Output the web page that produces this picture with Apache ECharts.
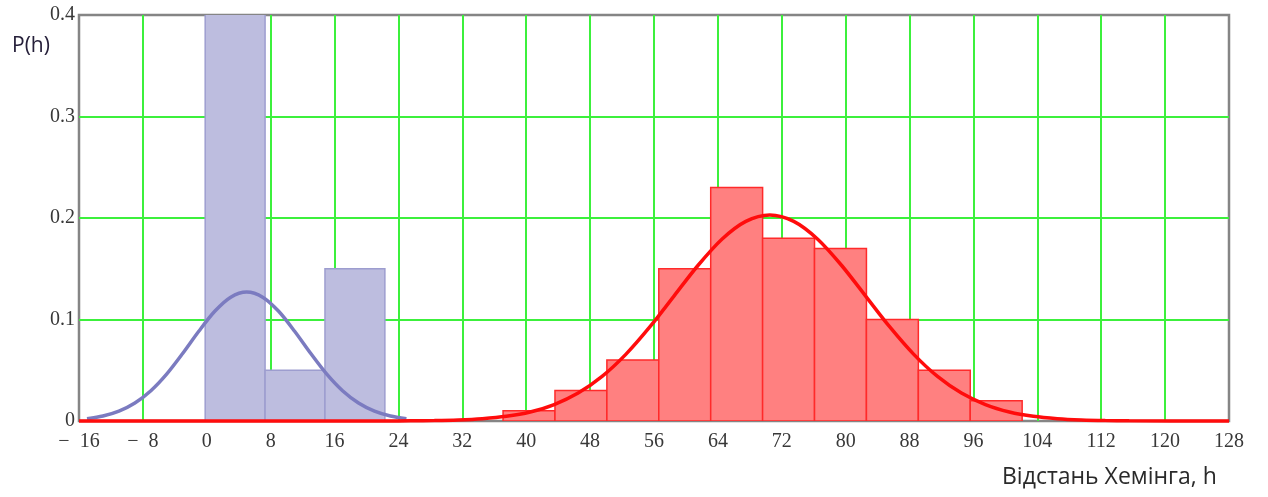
<!DOCTYPE html>
<html>
<head>
<meta charset="utf-8">
<script src="https://cdn.jsdelivr.net/npm/echarts@6/dist/echarts.min.js"></script>
<style>
  html, body { margin: 0; padding: 0; background: #ffffff; }
  #chart { width: 1268px; height: 497px; }
</style>
</head>
<body>
<div id="chart"></div>
<script>
// Histogram bins: edges (h) and relative frequencies P(h)
const blueBinEdges = [-0.2, 7.3, 14.8, 22.3];
const blueProb = [0.8, 0.05, 0.15];
const redBinEdges = [37.1, 43.6, 50.1, 56.6, 63.1, 69.6, 76.1, 82.6, 89.1, 95.6, 102.1];
const redProb = [0.01, 0.03, 0.06, 0.15, 0.23, 0.18, 0.17, 0.10, 0.05, 0.02];

// Fitted density curves, sampled along h
const blueCurveX = [-15, -13, -11, -9, -7, -5, -3, -1, 1, 3, 5, 7, 9, 11, 13, 15, 17, 19, 21, 23, 25];
const blueCurveY = [0.0023, 0.0049, 0.0097, 0.0177, 0.0298, 0.0464, 0.0667, 0.0884, 0.1081, 0.122, 0.127,
                    0.122, 0.1081, 0.0884, 0.0667, 0.0464, 0.0298, 0.0177, 0.0097, 0.0049, 0.0023];
const redCurveX = [-16, 22.5, 25.5, 28.5, 31.5, 34.5, 37.5, 40.5, 43.5, 46.5, 49.5, 52.5, 55.5, 58.5, 61.5, 64.5, 67.5,
                   70.5, 73.5, 76.5, 79.5, 82.5, 85.5, 88.5, 91.5, 94.5, 97.5, 100.5, 103.5, 106.5, 109.5, 112.5, 115.5, 128];
const redCurveY = [0, 0, 0.0002, 0.0004, 0.001, 0.00225, 0.0046, 0.0089, 0.0162, 0.0275, 0.0439, 0.0659, 0.0929,
                   0.1231, 0.1532, 0.1791, 0.1967, 0.203, 0.1967, 0.1791, 0.1532, 0.1231, 0.0929, 0.0659, 0.0439,
                   0.0275, 0.0162, 0.0089, 0.0046, 0.00225, 0.001, 0.0004, 0.0002, 0];

// Axis ticks
const xMin = -16, xMax = 128, xStep = 8;
const yMin = 0, yMax = 0.4, yStep = 0.1;

function binData(edges, probs) {
  return probs.map((p, i) => [edges[i], edges[i + 1], p]);
}
function curveData(xs, ys) {
  return xs.map((x, i) => [x, ys[i]]);
}
function binRenderer(fill, stroke) {
  return function (params, api) {
    const a = api.coord([api.value(0), 0]);
    const b = api.coord([api.value(1), api.value(2)]);
    return {
      type: 'rect',
      shape: { x: a[0], y: b[1], width: b[0] - a[0], height: a[1] - b[1] },
      style: { fill: fill, stroke: stroke, lineWidth: 1.5 }
    };
  };
}

const chart = echarts.init(document.getElementById('chart'), null, { renderer: 'canvas' });

const tickFont = { fontFamily: 'Liberation Serif', fontSize: 20, color: '#383838' };
const gridLine = { show: true, showMinLine: false, showMaxLine: false, lineStyle: { color: '#3cf03c', width: 2 } };

chart.setOption({
  animation: false,
  backgroundColor: '#ffffff',
  grid: {
    left: 79, right: 39, top: 15, bottom: 76,
    show: true, borderColor: '#858585', borderWidth: 2.5, backgroundColor: 'transparent'
  },
  xAxis: {
    type: 'value', min: xMin, max: xMax, interval: xStep,
    axisLine: { show: false },
    axisTick: { show: false },
    splitLine: gridLine,
    axisLabel: Object.assign({
      margin: 11,
      formatter: v => (v < 0 ? '\u2212\u2002' + Math.abs(v) : String(v))
    }, tickFont)
  },
  yAxis: {
    type: 'value', min: yMin, max: yMax, interval: yStep,
    axisLine: { show: false },
    axisTick: { show: false },
    splitLine: gridLine,
    axisLabel: Object.assign({
      margin: 4,
      formatter: v => (v === 0 ? '0' : v.toFixed(1))
    }, tickFont)
  },
  graphic: [
    { type: 'text', left: 12, top: 36,
      style: { text: 'P(h)', fontFamily: 'Open Sans', fontSize: 21, fill: '#26203a' } },
    { type: 'text', left: 1002, top: 466,
      style: { text: 'Відстань Хемінга, h', fontFamily: 'Open Sans', fontSize: 23, fill: '#2a2a2a' } }
  ],
  series: [
    {
      type: 'custom', name: 'blueBins', clip: true, z: 2,
      encode: { x: [0, 1], y: 2 },
      renderItem: binRenderer('#bdbddf', '#9d9dcf'),
      data: binData(blueBinEdges, blueProb)
    },
    {
      type: 'custom', name: 'redBins', clip: true, z: 2,
      encode: { x: [0, 1], y: 2 },
      renderItem: binRenderer('#ff8080', '#ff2a2a'),
      data: binData(redBinEdges, redProb)
    },
    {
      type: 'line', name: 'blueFit', smooth: 0.3, showSymbol: false, clip: false, z: 3,
      lineStyle: { color: '#7b7bc0', width: 3.5 },
      data: curveData(blueCurveX, blueCurveY)
    },
    {
      type: 'line', name: 'redFit', smooth: 0.3, showSymbol: false, clip: false, z: 4,
      lineStyle: { color: '#ff0c0c', width: 3.5 },
      data: curveData(redCurveX, redCurveY)
    }
  ]
});
</script>
</body>
</html>
